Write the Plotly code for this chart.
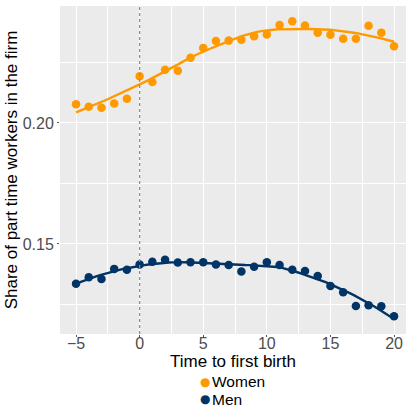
import numpy as np
import plotly.graph_objects as go

# Years relative to the first birth
years = list(range(-5, 21))

# Share of part-time co-workers in the firm, by sex
women = [0.2077, 0.2067, 0.2063, 0.2080, 0.2100, 0.2193, 0.2169, 0.2220, 0.2216,
         0.2269, 0.2310, 0.2338, 0.2340, 0.2344, 0.2358, 0.2365, 0.2404, 0.2420,
         0.2402, 0.2373, 0.2364, 0.2348, 0.2348, 0.2401, 0.2373, 0.2317]
men = [0.1336, 0.1362, 0.1355, 0.1397, 0.1393, 0.1415, 0.1426, 0.1435, 0.1423,
       0.1424, 0.1424, 0.1415, 0.1413, 0.1386, 0.1406, 0.1424, 0.1413, 0.1393,
       0.1388, 0.1368, 0.1326, 0.1300, 0.1244, 0.1247, 0.1243, 0.1201]

series_names = ["Women", "Men"]
series_colors = ["#FF9900", "#003366"]


def loess(x, y, span=0.75, n_grid=80):
    """Local quadratic regression with tricube weights."""
    x = np.asarray(x, dtype=float)
    y = np.asarray(y, dtype=float)
    n = len(x)
    q = int(np.floor(n * span))
    grid = np.linspace(x.min(), x.max(), n_grid)
    fitted = []
    for x0 in grid:
        d = np.abs(x - x0)
        h = np.sort(d)[q - 1] * 1.0001
        w = np.clip(1 - (d / h) ** 3, 0, None) ** 3
        X = np.vstack([np.ones(n), x - x0, (x - x0) ** 2]).T
        sw = np.sqrt(w)
        beta = np.linalg.lstsq(X * sw[:, None], y * sw, rcond=None)[0]
        fitted.append(beta[0])
    return grid, np.array(fitted)


fig = go.Figure()
for name, vals, col in zip(series_names, [women, men], series_colors):
    gx, gy = loess(years, vals)
    fig.add_trace(go.Scatter(x=gx, y=gy, mode="lines",
                             line=dict(color=col, width=2.4),
                             showlegend=False, hoverinfo="skip"))
    fig.add_trace(go.Scatter(x=years, y=vals, mode="markers", name=name,
                             marker=dict(color=col, size=8.5),
                             showlegend=False))

fig.add_vline(x=0, line=dict(color="#8C8C8C", dash="dot", width=1.2))

font_family = "Liberation Sans, Arial, sans-serif"

fig.update_layout(
    width=406, height=408,
    margin=dict(l=60, r=0, t=6, b=74),
    paper_bgcolor="white",
    plot_bgcolor="#EBEBEB",
    font=dict(family=font_family, size=16, color="black"),
    showlegend=False,
    xaxis=dict(
        range=[-6.26, 20.94],
        tickvals=[-5, 0, 5, 10, 15, 20],
        showgrid=True, gridcolor="white", gridwidth=1.2,
        minor=dict(tickvals=[-2.5, 2.5, 7.5, 12.5, 17.5], showgrid=True,
                   gridcolor="white", gridwidth=0.6, ticks=""),
        zeroline=False,
        ticks="outside", ticklen=2, tickcolor="#555555", tickwidth=1,
        ticklabelstandoff=-7,
        tickfont=dict(size=16, color="#4D4D4D"),
        title=dict(text="Time to first birth", standoff=0,
                   font=dict(size=17, color="black")),
    ),
    yaxis=dict(
        range=[0.1128, 0.2483],
        tickvals=[0.15, 0.20],
        ticktext=["0.15", "0.20"],
        showgrid=True, gridcolor="white", gridwidth=1.2,
        minor=dict(tickvals=[0.125, 0.175, 0.225], showgrid=True,
                   gridcolor="white", gridwidth=0.6, ticks=""),
        zeroline=False,
        ticks="outside", ticklen=2, tickcolor="#555555", tickwidth=1,
        tickfont=dict(size=16, color="#4D4D4D"),
        title=dict(text="Share of part time workers in the firm", standoff=0,
                   font=dict(size=17, color="black")),
    ),
)

# Legend below the panel: coloured key dot followed by the series name
plot_w, plot_h = 346, 328
for i, (name, col) in enumerate(zip(series_names, series_colors)):
    yc = -(47.5 + 17.5 * i) / plot_h
    fig.add_annotation(xref="paper", yref="paper", x=(205 - 60) / plot_w, y=yc,
                       text="●", showarrow=False, xanchor="center", yanchor="middle",
                       borderpad=0,
                       font=dict(family="DejaVu Sans", size=12, color=col))
    fig.add_annotation(xref="paper", yref="paper", x=(211 - 60) / plot_w, y=yc,
                       text=name, showarrow=False, xanchor="left", yanchor="middle",
                       borderpad=0,
                       font=dict(family=font_family, size=15.5, color="black"))

fig.write_html("out.html")
